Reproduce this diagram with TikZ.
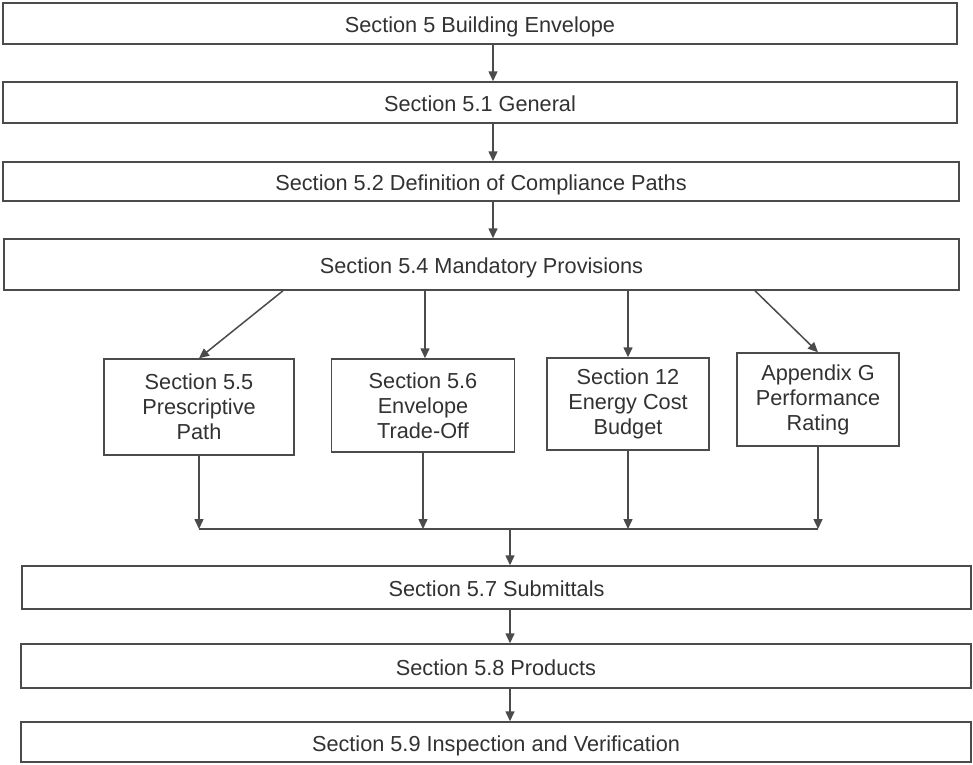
\documentclass[tikz,border=0pt]{standalone}
\usepackage{fontspec}
\setmainfont{Liberation Sans}
\usetikzlibrary{arrows.meta}
\definecolor{linec}{RGB}{75,75,75}
\definecolor{textc}{RGB}{50,50,50}
\tikzset{
  box/.style={draw=linec, line width=1.5pt, fill=white, inner sep=0pt, align=center,
    text=textc, font=\fontsize{21.7}{25}\selectfont},
  wide/.style={box, text height=18pt, text depth=0pt},
  arr/.style={draw=linec, line width=1.5pt, -{Triangle[length=10pt,width=9pt]}},
  ln/.style={draw=linec, line width=1.5pt}
}
\begin{document}
\begin{tikzpicture}[x=1pt,y=-1pt]
\useasboundingbox[fill=white] (0,0) rectangle (973,764);
% wide boxes
\node[wide, minimum width=954, minimum height=41] (b1) at (480,23.5) {Section 5 Building Envelope};
\node[wide, minimum width=954, minimum height=41] (b2) at (480,102.5) {Section 5.1 General};
\node[wide, minimum width=956, minimum height=39] (b3) at (481,181.5) {Section 5.2 Definition of Compliance Paths};
\node[wide, minimum width=955, minimum height=51] (b4) at (481.5,264.5) {Section 5.4 Mandatory Provisions};
% path boxes
\node[box, minimum width=190, minimum height=96] (b55) at (199,407) {Section 5.5\\Prescriptive\\Path};
\node[box, minimum width=183, minimum height=93] (b56) at (423,405.5) {Section 5.6\\Envelope\\Trade-Off};
\node[box, minimum width=162, minimum height=92] (b12) at (628,404) {Section 12\\Energy Cost\\Budget};
\node[box, minimum width=162, minimum height=93] (bG) at (818,399.5) {Appendix G\\Performance\\Rating};
% lower boxes
\node[wide, minimum width=949, minimum height=43] (b57) at (496.5,587.5) {Section 5.7 Submittals};
\node[wide, minimum width=950, minimum height=44] (b58) at (496,666) {Section 5.8 Products};
\node[wide, minimum width=950, minimum height=40] (b59) at (496,742) {Section 5.9 Inspection and Verification};
% top chain
\coordinate (t) at (493,0);
\draw[arr] (t |- b1.south) -- (t |- b2.north);
\draw[arr] (t |- b2.south) -- (t |- b3.north);
\draw[arr] (t |- b3.south) -- (t |- b4.north);
% fan out
\draw[arr] ([xshift=-198.5]b4.south) -- (b55.north);
\draw[arr] ([xshift=-56.5]b4.south) -- ([xshift=2]b56.north);
\draw[arr] (b4.south -| b12.north) -- (b12.north);
\draw[arr] ([xshift=273.5]b4.south) -- (bG.north);
% merge
\coordinate (m) at (510,529);
\draw[arr] (b55.south) -- (b55.south |- m);
\draw[arr] (b56.south) -- (b56.south |- m);
\draw[arr] (b12.south) -- (b12.south |- m);
\draw[arr] (bG.south) -- (bG.south |- m);
\draw[ln] (b55.south |- m) -- (bG.south |- m);
\draw[arr] (m) -- (m |- b57.north);
\draw[arr] (m |- b57.south) -- (m |- b58.north);
\draw[arr] (m |- b58.south) -- (m |- b59.north);
\end{tikzpicture}
\end{document}
